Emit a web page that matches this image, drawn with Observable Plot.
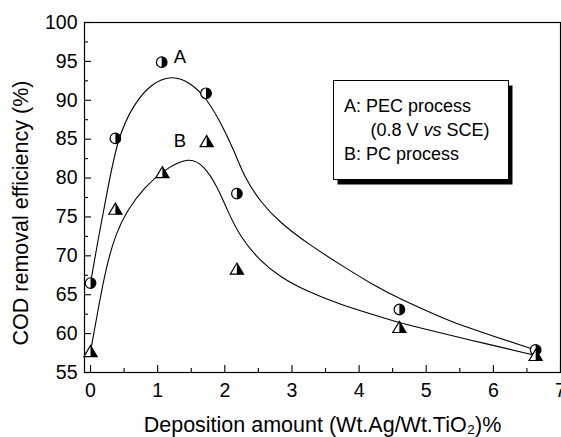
<!DOCTYPE html>
<html><head><meta charset="utf-8">
<script src="https://cdn.jsdelivr.net/npm/d3@7"></script>
<script src="https://cdn.jsdelivr.net/npm/@observablehq/plot@0.6"></script>
<style>
body{margin:0;background:#fff}
#chart{width:561px;height:437px}
</style>
</head><body><div id="chart"></div>
<script>
// Measured points
const amountA = [0, 0.37, 1.06, 1.72, 2.18, 4.6, 6.63];
const codA    = [66.5, 85.1, 94.9, 90.9, 78.0, 63.1, 57.9];
const amountB = [0, 0.37, 1.07, 1.73, 2.18, 4.6, 6.63];
const codB    = [57.7, 76.0, 80.7, 84.7, 68.3, 60.8, 57.2];

// Fitted curves
const fitAx = [0, 0.11, 0.23, 0.40, 0.65, 0.90, 1.20, 1.49, 1.74, 1.94, 2.14, 2.28, 2.53, 2.83, 3.23, 3.73, 4.22, 4.60, 5.30, 5.60, 6.63];
const fitAy = [66.5, 72.0, 77.4, 85.2, 89.6, 92.1, 93.25, 92.3, 90.1, 87.1, 83.5, 80.3, 76.9, 74.2, 71.6, 68.8, 66.2, 64.5, 61.8, 60.8, 57.9];
const fitBx = [0, 0.11, 0.23, 0.38, 0.55, 0.80, 1.10, 1.47, 1.69, 1.89, 2.04, 2.23, 2.53, 2.82, 3.23, 3.73, 4.22, 4.60, 4.92, 5.59, 6.63];
const fitBy = [57.7, 63.0, 68.5, 73.0, 75.9, 78.8, 81.1, 82.75, 81.6, 78.9, 75.8, 72.4, 69.3, 67.3, 65.4, 63.7, 62.4, 61.4, 60.7, 59.3, 57.2];

// Ticks
const xMajor = [0, 1, 2, 3, 4, 5, 6, 7];
const xMinor = [0.5, 1.5, 2.5, 3.5, 4.5, 5.5, 6.5];
const yMajor = [55, 60, 65, 70, 75, 80, 85, 90, 95, 100];
const yMinor = [57.5, 62.5, 67.5, 72.5, 77.5, 82.5, 87.5, 92.5, 97.5];

// Text
const xTitle = "Deposition amount (Wt.Ag/Wt.TiO\u2082)%";
const yTitle = "COD removal efficiency (%)";
const curveLabels = ["A", "B"];
const curveLabelX = [1.33, 1.33];
const curveLabelY = [95.6, 84.7];
const legendLine1 = "A: PEC process";
const legendLine2 = ["(0.8 V ", "vs", " SCE)"];
const legendLine3 = "B: PC process";

const ptsA = amountA.map((x, i) => ({x, y: codA[i]}));
const ptsB = amountB.map((x, i) => ({x, y: codB[i]}));
const fitA = fitAx.map((x, i) => ({x, y: fitAy[i]}));
const fitB = fitBx.map((x, i) => ({x, y: fitBy[i]}));
const labels = curveLabels.map((t, i) => ({t, x: curveLabelX[i], y: curveLabelY[i]}));

const halfCircleRight = {draw(ctx, size) {
  const r = Math.sqrt(size / Math.PI);
  ctx.moveTo(0, -r); ctx.arc(0, 0, r, -Math.PI / 2, Math.PI / 2); ctx.closePath();
}};
const triFull = {draw(ctx, size) {
  const r = Math.sqrt(size / Math.PI);
  ctx.moveTo(0, -r); ctx.lineTo(r * 1.1, r * 0.85); ctx.lineTo(-r * 1.1, r * 0.85); ctx.closePath();
}};
const triRight = {draw(ctx, size) {
  const r = Math.sqrt(size / Math.PI);
  ctx.moveTo(0, -r); ctx.lineTo(r * 1.1, r * 0.85); ctx.lineTo(0, r * 0.85); ctx.closePath();
}};

const font = "'Liberation Sans', Arial, Helvetica, sans-serif";

const plot = Plot.plot({
  width: 561, height: 437,
  marginLeft: 84, marginRight: 1, marginTop: 22, marginBottom: 65,
  style: {fontFamily: font, background: "white", color: "black"},
  x: {domain: [-0.09, 7]},
  y: {domain: [55, 100]},
  marks: [
    Plot.line(fitA, {x: "x", y: "y", curve: "basis", stroke: "black", strokeWidth: 1.1}),
    Plot.line(fitB, {x: "x", y: "y", curve: "basis", stroke: "black", strokeWidth: 1.1}),
    Plot.tickX(xMajor, {x: d => d, insetTop: 343, stroke: "black", strokeWidth: 1.1}),
    Plot.tickX(xMinor, {x: d => d, insetTop: 346, stroke: "black", strokeWidth: 1.1}),
    Plot.tickY(yMajor, {y: d => d, insetRight: 469, stroke: "black", strokeWidth: 1.1}),
    Plot.tickY(yMinor, {y: d => d, insetRight: 472, stroke: "black", strokeWidth: 1.1}),
    Plot.axisX(xMajor, {tickSize: 0, tickPadding: 11, fontSize: 19.5, label: null}),
    Plot.axisY(yMajor, {tickSize: 0, tickPadding: 7, fontSize: 19.5, label: null}),
    Plot.frame({stroke: "black", strokeWidth: 1.2}),
    Plot.dot(ptsA, {x: "x", y: "y", r: 5.3, fill: "white", stroke: "black", strokeWidth: 1.2}),
    Plot.dot(ptsA, {x: "x", y: "y", r: 5.3, symbol: halfCircleRight, fill: "black", stroke: "none"}),
    Plot.dot(ptsB, {x: "x", y: "y", r: 6, symbol: triFull, fill: "white", stroke: "black", strokeWidth: 1.2}),
    Plot.dot(ptsB, {x: "x", y: "y", r: 6, symbol: triRight, fill: "black", stroke: "none"}),
    Plot.text(labels, {x: "x", y: "y", text: "t", fontSize: 18.5, fill: "black"}),
    Plot.text([xTitle], {text: d => d, frameAnchor: "bottom", textAnchor: "middle", lineAnchor: "middle", dy: 52.5, fontSize: 21.5, fill: "black"}),
    Plot.text([yTitle], {text: d => d, frameAnchor: "left", textAnchor: "middle", lineAnchor: "middle", rotate: -90, dx: -63, dy: 15.5, fontSize: 21.5, fill: "black"})
  ]
});

// Legend box
const svg = d3.select(plot);
const g = svg.append("g").attr("font-family", font).attr("font-size", 18)
  .attr("fill", "black").attr("text-anchor", "start");
g.append("rect").attr("x", 337.5).attr("y", 85.5).attr("width", 175).attr("height", 99).attr("fill", "black");
g.append("rect").attr("x", 333.5).attr("y", 80.5).attr("width", 175).attr("height", 99)
  .attr("fill", "white").attr("stroke", "black").attr("stroke-width", 1);
g.append("text").attr("x", 344).attr("y", 111.5).text(legendLine1);
const t2 = g.append("text").attr("x", 370.5).attr("y", 135.5);
t2.append("tspan").text(legendLine2[0]);
t2.append("tspan").attr("font-style", "italic").text(legendLine2[1]);
t2.append("tspan").text(legendLine2[2]);
g.append("text").attr("x", 344).attr("y", 160).text(legendLine3);

document.getElementById("chart").appendChild(plot);
</script>
</body></html>
